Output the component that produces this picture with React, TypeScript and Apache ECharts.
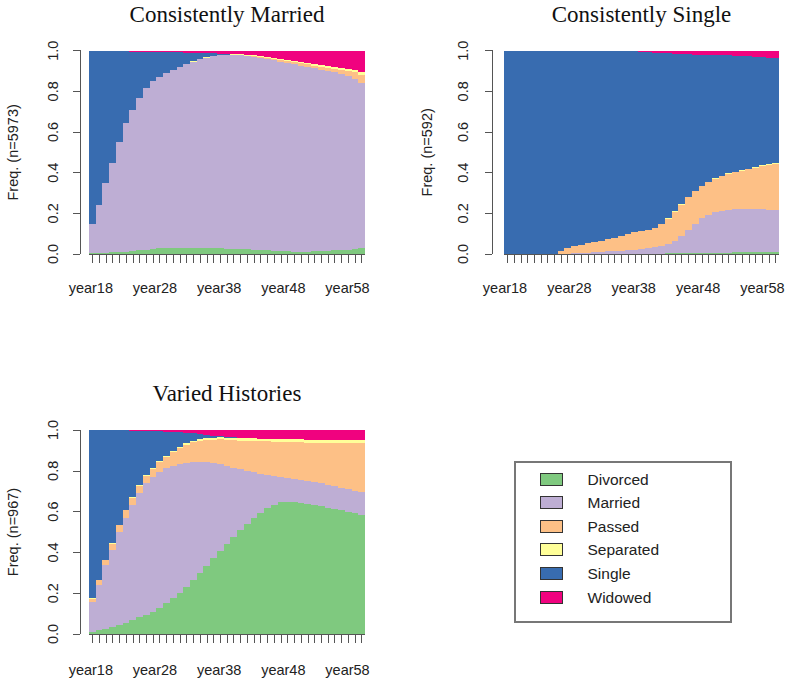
import React, { useEffect, useRef } from "react";
import * as echarts from "echarts";

const years = [
  "year18", "year19", "year20", "year21", "year22", "year23", "year24", "year25", "year26", "year27",
  "year28", "year29", "year30", "year31", "year32", "year33", "year34", "year35", "year36", "year37",
  "year38", "year39", "year40", "year41", "year42", "year43", "year44", "year45", "year46", "year47",
  "year48", "year49", "year50", "year51", "year52", "year53", "year54", "year55", "year56", "year57",
  "year58",
];

const states = ["Divorced", "Married", "Passed", "Separated", "Single", "Widowed"];
const stateColors = ["#7FC97F", "#BEAED4", "#FDC086", "#FFFF99", "#386CB0", "#F0027F"];
const yTicks = [0, 0.2, 0.4, 0.6, 0.8, 1.0];

// Consistently Married (n=5973)
const cmDivorced = [0.003,0.004,0.006,0.008,0.010,0.012,0.015,0.018,0.021,0.025,0.028,0.030,0.031,0.031,0.031,0.030,0.030,0.029,0.028,0.028,0.027,0.026,0.025,0.024,0.022,0.020,0.018,0.016,0.015,0.013,0.012,0.012,0.012,0.013,0.014,0.016,0.018,0.020,0.022,0.025,0.030];
const cmMarried = [0.144,0.236,0.344,0.442,0.543,0.633,0.695,0.748,0.794,0.826,0.844,0.860,0.874,0.889,0.902,0.916,0.928,0.937,0.944,0.949,0.952,0.953,0.952,0.949,0.947,0.944,0.940,0.936,0.931,0.926,0.921,0.915,0.909,0.901,0.893,0.884,0.875,0.866,0.855,0.837,0.810];
const cmPassed = [0,0,0,0,0,0,0,0,0,0,0,0,0,0,0,0,0,0,0,0,0,0.001,0.002,0.003,0.004,0.005,0.006,0.007,0.008,0.009,0.010,0.011,0.012,0.013,0.014,0.016,0.018,0.021,0.025,0.032,0.042];
const cmSeparated = [0,0,0,0,0,0,0,0,0,0,0.001,0.001,0.001,0.001,0.001,0.001,0.001,0.001,0.001,0.001,0.002,0.002,0.003,0.003,0.004,0.004,0.005,0.005,0.005,0.006,0.006,0.006,0.007,0.007,0.007,0.008,0.008,0.009,0.010,0.011,0.012];
const cmSingle = [0.851,0.758,0.648,0.547,0.444,0.352,0.286,0.230,0.181,0.144,0.122,0.103,0.087,0.071,0.057,0.043,0.030,0.021,0.014,0.008,0.004,0,0,0,0,0,0,0,0,0,0,0,0,0,0,0,0,0,0,0,0];
const cmWidowed = [0.002,0.002,0.002,0.003,0.003,0.003,0.004,0.004,0.004,0.005,0.005,0.006,0.007,0.008,0.009,0.010,0.011,0.012,0.013,0.014,0.015,0.018,0.018,0.021,0.023,0.027,0.031,0.036,0.041,0.046,0.051,0.056,0.060,0.066,0.072,0.076,0.081,0.084,0.088,0.095,0.106];

// Consistently Single (n=592)
const csDivorced = [0,0,0,0,0,0,0,0,0,0,0,0,0,0,0,0,0,0,0,0,0.001,0.001,0.002,0.002,0.003,0.003,0.004,0.004,0.005,0.005,0.006,0.006,0.007,0.007,0.008,0.008,0.009,0.009,0.010,0.010,0.011];
const csMarried = [0,0,0,0,0,0,0,0,0,0,0.003,0.005,0.007,0.009,0.011,0.013,0.015,0.017,0.019,0.021,0.023,0.027,0.031,0.038,0.047,0.062,0.086,0.116,0.145,0.170,0.187,0.199,0.206,0.211,0.212,0.213,0.212,0.211,0.209,0.208,0.206];
const csPassed = [0,0,0,0,0,0,0,0,0.015,0.028,0.034,0.040,0.046,0.051,0.055,0.059,0.065,0.073,0.081,0.085,0.087,0.091,0.096,0.109,0.124,0.143,0.153,0.158,0.158,0.158,0.159,0.164,0.169,0.175,0.182,0.188,0.195,0.204,0.213,0.220,0.226];
const csSeparated = [0,0,0,0,0,0,0,0,0,0,0,0,0,0,0,0,0,0,0,0,0.001,0.001,0.001,0.001,0.001,0.002,0.002,0.002,0.002,0.002,0.003,0.003,0.003,0.003,0.003,0.004,0.004,0.004,0.004,0.005,0.005];
const csSingle = [1,1,1,1,1,1,1,1,0.985,0.972,0.963,0.953,0.944,0.937,0.931,0.925,0.917,0.907,0.897,0.891,0.883,0.873,0.861,0.839,0.812,0.775,0.738,0.702,0.671,0.645,0.624,0.606,0.593,0.581,0.571,0.562,0.553,0.543,0.533,0.523,0.515];
const csWidowed = [0,0,0,0,0,0,0,0,0,0,0,0.002,0.003,0.003,0.003,0.003,0.003,0.003,0.003,0.003,0.005,0.007,0.009,0.011,0.013,0.015,0.017,0.018,0.019,0.020,0.021,0.022,0.022,0.023,0.024,0.025,0.027,0.029,0.031,0.034,0.037];

// Varied Histories (n=967)
const vhDivorced = [0.011,0.018,0.025,0.034,0.044,0.056,0.069,0.081,0.093,0.110,0.129,0.151,0.175,0.203,0.232,0.264,0.297,0.334,0.371,0.406,0.440,0.476,0.510,0.540,0.567,0.593,0.616,0.632,0.645,0.649,0.645,0.641,0.636,0.631,0.626,0.620,0.613,0.607,0.600,0.592,0.583];
const vhMarried = [0.147,0.222,0.313,0.376,0.457,0.511,0.563,0.609,0.646,0.661,0.667,0.664,0.650,0.630,0.608,0.578,0.548,0.510,0.467,0.426,0.382,0.339,0.298,0.260,0.226,0.193,0.164,0.143,0.125,0.116,0.115,0.114,0.114,0.114,0.112,0.110,0.111,0.110,0.110,0.111,0.113];
const vhPassed = [0.015,0.023,0.023,0.032,0.031,0.039,0.037,0.036,0.036,0.040,0.048,0.052,0.065,0.078,0.088,0.097,0.101,0.108,0.115,0.122,0.131,0.134,0.140,0.147,0.153,0.159,0.164,0.168,0.172,0.177,0.181,0.184,0.188,0.193,0.199,0.207,0.212,0.219,0.226,0.232,0.239];
const vhSeparated = [0.002,0.002,0.002,0.002,0.002,0.002,0.004,0.004,0.004,0.004,0.004,0.007,0.007,0.007,0.007,0.007,0.010,0.010,0.010,0.010,0.010,0.013,0.013,0.013,0.013,0.013,0.013,0.013,0.013,0.013,0.013,0.015,0.015,0.015,0.015,0.015,0.015,0.015,0.015,0.015,0.015];
const vhSingle = [0.823,0.733,0.635,0.554,0.464,0.390,0.324,0.267,0.217,0.180,0.146,0.118,0.093,0.070,0.051,0.038,0.026,0.015,0.010,0.007,0.005,0.003,0.002,0,0,0,0,0,0,0,0,0,0,0,0,0,0,0,0,0,0];
const vhWidowed = [0.002,0.002,0.002,0.002,0.002,0.002,0.003,0.003,0.004,0.005,0.006,0.008,0.010,0.012,0.014,0.016,0.018,0.023,0.027,0.029,0.032,0.035,0.037,0.040,0.041,0.042,0.043,0.044,0.045,0.045,0.046,0.046,0.047,0.047,0.048,0.048,0.049,0.049,0.049,0.050,0.050];

const panelTitles = ["Consistently Married", "Consistently Single", "Varied Histories"];
const panelYNames = ["Freq. (n=5973)", "Freq. (n=592)", "Freq. (n=967)"];
const panelSeries = [
  [cmDivorced, cmMarried, cmPassed, cmSeparated, cmSingle, cmWidowed],
  [csDivorced, csMarried, csPassed, csSeparated, csSingle, csWidowed],
  [vhDivorced, vhMarried, vhPassed, vhSeparated, vhSingle, vhWidowed],
];

// layout (pixels)
const layout = [
  { left: 89, top: 50.7, width: 276, height: 203.3, yOffset: 9, yMargin: 20, nameGap: 60, labLeft: 87.6, labWidth: 263.1, labMargin: 25.5, titleX: 227, titleTop: 3 },
  { left: 504, top: 50.7, width: 275, height: 203.3, yOffset: 12, yMargin: 22, nameGap: 58, labLeft: 501.8, labWidth: 263.9, labMargin: 25.5, titleX: 641.5, titleTop: 3 },
  { left: 89, top: 430, width: 276, height: 204, yOffset: 9, yMargin: 20, nameGap: 60, labLeft: 87.6, labWidth: 263.1, labMargin: 27.5, titleX: 227, titleTop: 382 },
];

const SANS = '"Liberation Sans", Arial, Helvetica, sans-serif';
const SERIF = '"Liberation Serif", "Times New Roman", serif';

export default function App() {
  const ref = useRef<HTMLDivElement>(null);

  useEffect(() => {
    if (!ref.current) return;
    const chart = echarts.init(ref.current, null, { renderer: "svg" });

    const grids: any[] = [];
    const xAxes: any[] = [];
    const yAxes: any[] = [];
    const series: any[] = [];
    const titles: any[] = [];

    layout.forEach((L, p) => {
      grids.push({ left: L.left, top: L.top, width: L.width, height: L.height, containLabel: false });
      titles.push({
        text: panelTitles[p],
        left: L.titleX,
        top: L.titleTop,
        textAlign: "center",
        padding: 0,
        textStyle: { fontFamily: SERIF, fontSize: 23, fontWeight: "normal", color: "#111" },
      });
    });
    layout.forEach((L) => {
      grids.push({ left: L.labLeft, top: L.top + L.height - 14, width: L.labWidth, height: 14, containLabel: false });
    });

    layout.forEach((L, p) => {
      xAxes.push({
        type: "category",
        gridIndex: p,
        data: years,
        offset: 3,
        axisLine: { show: true, lineStyle: { color: "#555", width: 1 } },
        axisTick: { show: true, alignWithLabel: true, interval: 0, length: 9, lineStyle: { color: "#555" } },
        axisLabel: { show: false },
        splitLine: { show: false },
      });
      yAxes.push({
        type: "value",
        gridIndex: p,
        min: 0,
        max: 1,
        interval: 0.2,
        offset: L.yOffset,
        axisLine: { show: true, lineStyle: { color: "#555", width: 1 } },
        axisTick: { show: true, length: 7, lineStyle: { color: "#555" } },
        splitLine: { show: false },
        axisLabel: {
          rotate: 90,
          margin: L.yMargin,
          fontSize: 14.5,
          color: "#222",
          fontFamily: SANS,
          formatter: (v: number) => (yTicks.includes(Math.round(v * 10) / 10) ? v.toFixed(1) : ""),
        },
        name: panelYNames[p],
        nameLocation: "middle",
        nameGap: L.nameGap,
        nameTextStyle: { fontSize: 14.5, color: "#222", fontFamily: SANS },
      });
    });
    layout.forEach((L, p) => {
      xAxes.push({
        type: "category",
        gridIndex: 3 + p,
        data: years,
        axisLine: { show: false },
        axisTick: { show: false },
        splitLine: { show: false },
        axisLabel: { interval: 9, margin: L.labMargin, fontSize: 14.5, lineHeight: 17, color: "#222", fontFamily: SANS },
      });
      yAxes.push({ type: "value", gridIndex: 3 + p, show: false });
    });

    panelSeries.forEach((arrs, p) => {
      arrs.forEach((d, k) => {
        series.push({
          type: "bar",
          name: states[k],
          xAxisIndex: p,
          yAxisIndex: p,
          stack: "panel" + p,
          data: d,
          barCategoryGap: "0%",
          barWidth: "101%",
          itemStyle: { color: stateColors[k] },
          emphasis: { disabled: true },
          silent: true,
        });
      });
    });

    chart.setOption({
      animation: false,
      backgroundColor: "#ffffff",
      title: titles,
      grid: grids,
      xAxis: xAxes,
      yAxis: yAxes,
      series,
      legend: {
        orient: "vertical",
        left: 540,
        top: 471,
        padding: 0,
        itemWidth: 22,
        itemHeight: 12,
        itemGap: 7.6,
        icon: "rect",
        selectedMode: false,
        data: states,
        itemStyle: { borderColor: "#333", borderWidth: 1 },
        textStyle: { fontSize: 15.5, lineHeight: 16, color: "#222", fontFamily: SANS, padding: [0, 0, 0, 20] },
      },
      graphic: [
        {
          type: "rect",
          shape: { x: 515, y: 462, width: 216, height: 160 },
          style: { fill: "none", stroke: "#777", lineWidth: 1.5 },
          silent: true,
        },
      ],
    });

    return () => chart.dispose();
  }, []);

  return (
    <div
      ref={ref}
      style={{ position: "absolute", left: 0, top: 0, width: 790, height: 681, background: "#fff", shapeRendering: "crispEdges" as any }}
    />
  );
}
